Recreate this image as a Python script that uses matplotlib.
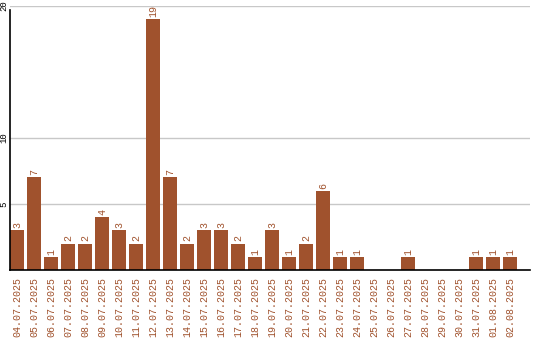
import matplotlib
matplotlib.use("Agg")
import matplotlib.pyplot as plt

dates = ["04.07.2025", "05.07.2025", "06.07.2025", "07.07.2025", "08.07.2025",
         "09.07.2025", "10.07.2025", "11.07.2025", "12.07.2025", "13.07.2025",
         "14.07.2025", "15.07.2025", "16.07.2025", "17.07.2025", "18.07.2025",
         "19.07.2025", "20.07.2025", "21.07.2025", "22.07.2025", "23.07.2025",
         "24.07.2025", "25.07.2025", "26.07.2025", "27.07.2025", "28.07.2025",
         "29.07.2025", "30.07.2025", "31.07.2025", "01.08.2025", "02.08.2025"]
counts = [3, 7, 1, 2, 2, 4, 3, 2, 19, 7,
          2, 3, 3, 2, 1, 3, 1, 2, 6, 1,
          1, 0, 0, 1, 0, 0, 0, 1, 1, 1]
yticks = [5, 10, 20]

color = "#A0522D"
mono = "Liberation Mono"

fig = plt.figure(figsize=(5.4, 3.4), dpi=100)
ax = fig.add_axes([10/540, 1 - 270/340, 520/540, (270 - 5.5)/340])

slot = 17.0
w = 14.0 / slot
xs = list(range(len(dates)))
ax.bar(xs, counts, width=w, align="edge", color=color, zorder=2)

for x, v in zip(xs, counts):
    if v > 0:
        ax.annotate(str(v), (x + w/2, v), xytext=(0, 1.5), textcoords="offset points",
                    rotation=90, ha="center", va="bottom", color=color,
                    fontsize=7.2, family=mono)

ax.set_xlim(0, 520/slot)
ax.set_ylim(0, 20)
ax.set_yticks(yticks)
ax.set_yticklabels([str(t) for t in yticks], rotation=90, va="center",
                   fontsize=6.5, family=mono, color="black")
ax.set_xticks([x + w/2 for x in xs])
ax.set_xticklabels(dates, rotation=90, ha="center", va="top",
                   fontsize=7.2, family=mono, color=color)
ax.tick_params(axis="both", length=0)
ax.tick_params(axis="x", pad=5)
ax.tick_params(axis="y", pad=1)
ax.grid(axis="y", color="#c8c8c8", linewidth=1, zorder=0)
ax.set_axisbelow(True)
for s in ["top", "right"]:
    ax.spines[s].set_visible(False)
ax.spines["left"].set_bounds(0, 19.65)
ax.spines["left"].set_color("black")
ax.spines["bottom"].set_color("black")
ax.spines["left"].set_linewidth(1.2)
ax.spines["bottom"].set_linewidth(1.2)
ax.spines["left"].set_zorder(3)
ax.spines["bottom"].set_zorder(3)

fig.savefig("out.png", dpi=100)
